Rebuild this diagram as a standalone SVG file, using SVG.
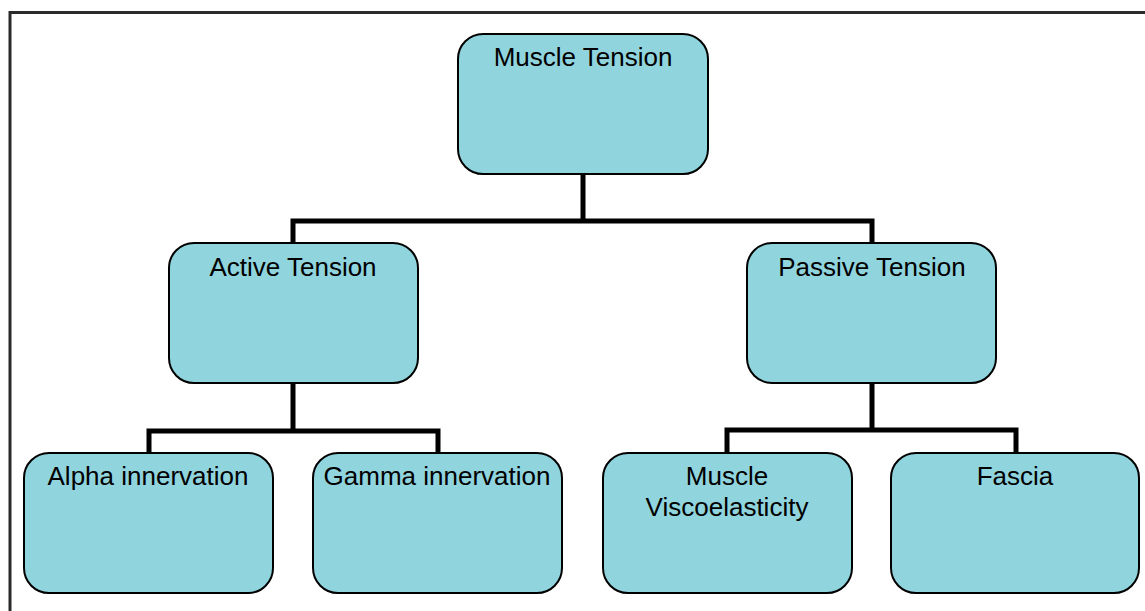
<svg xmlns="http://www.w3.org/2000/svg" width="1145" height="611" viewBox="0 0 1145 611">
<style>
.box{fill:#90D4DD;stroke:#000;stroke-width:2}
.lbl{font-family:"Liberation Sans",Arial,sans-serif;font-size:26px;fill:#000;text-anchor:middle}
.conn{fill:none;stroke:#000;stroke-width:5}
</style>
<rect width="1145" height="611" fill="#fff"/>
<path d="M10,611 V12.5 H1145" fill="none" stroke="#2a2a2a" stroke-width="3"/>
<g id="connectors">
<path class="conn" d="M583,174 V221 M293,243 V221 H872 V243"/>
<path class="conn" d="M293,383 V431 M149,453 V431 H438 V453"/>
<path class="conn" d="M872,383 V430 M727,453 V430 H1016 V453"/>
</g>
<g id="muscle-tension">
<rect class="box" x="458" y="34" width="250" height="140" rx="25"/>
<text class="lbl" x="583" y="66">Muscle Tension</text>
</g>
<g id="active-tension">
<rect class="box" x="169" y="243" width="249" height="140" rx="25"/>
<text class="lbl" x="293" y="276">Active Tension</text>
</g>
<g id="passive-tension">
<rect class="box" x="747" y="243" width="249" height="140" rx="25"/>
<text class="lbl" x="872" y="276">Passive Tension</text>
</g>
<g id="alpha">
<rect class="box" x="24" y="453" width="249" height="140" rx="25"/>
<text class="lbl" x="148" y="485">Alpha innervation</text>
</g>
<g id="gamma">
<rect class="box" x="313" y="453" width="249" height="140" rx="25"/>
<text class="lbl" x="437" y="485">Gamma innervation</text>
</g>
<g id="viscoelasticity">
<rect class="box" x="603" y="453" width="249" height="140" rx="25"/>
<text class="lbl" x="727" y="485">Muscle</text>
<text class="lbl" x="727" y="516">Viscoelasticity</text>
</g>
<g id="fascia">
<rect class="box" x="891" y="453" width="248" height="140" rx="25"/>
<text class="lbl" x="1015" y="485">Fascia</text>
</g>
</svg>
